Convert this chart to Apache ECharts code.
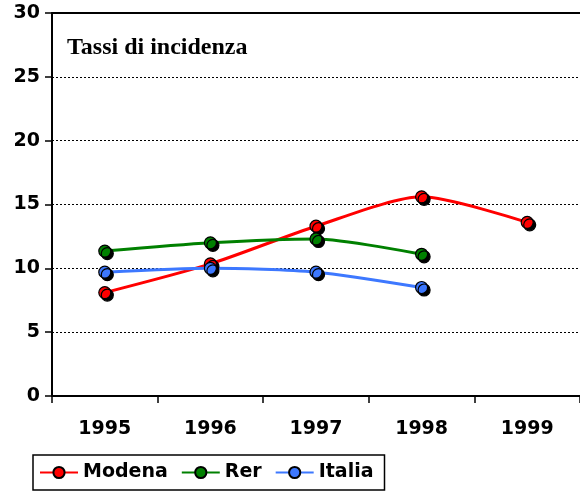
<!DOCTYPE html>
<html>
<head>
    <meta charset="UTF-8"/>
    <title>Tassi di incidenza</title>
    <script src="https://cdn.jsdelivr.net/npm/echarts@6/dist/echarts.min.js"></script>
    <style>
        html, body { margin: 0; padding: 0; background: #fff; }
        #chart { width: 580px; height: 491px; }
    </style>
</head>
<body>
<div id="chart"></div>
<script type="text/javascript">
    // dati
    const anni = ["1995", "1996", "1997", "1998", "1999"];
    const modena = [8.1, 10.35, 13.3, 15.6, 13.6];
    const rer = [11.35, 12.0, 12.3, 11.1, null];
    const italia = [9.7, 10.0, 9.7, 8.5, null];
    const yTicks = [0, 5, 10, 15, 20, 25, 30];

    const font = "'DejaVu Sans', Verdana, sans-serif";
    const chart = echarts.init(document.getElementById("chart"), null, {renderer: "canvas"});

    function serie(nome, dati, colore) {
        return {
            name: nome,
            type: "line",
            data: dati,
            smooth: 0.25,
            symbol: "circle",
            symbolSize: 12,
            lineStyle: {color: colore, width: 3},
            itemStyle: {
                color: colore,
                borderColor: "#000",
                borderWidth: 1.2,
                shadowColor: "#000",
                shadowBlur: 0,
                shadowOffsetX: 2.5,
                shadowOffsetY: 2.5
            },
            emphasis: {disabled: true}
        };
    }

    chart.setOption({
        animation: false,
        title: {
            text: "Tassi di incidenza",
            left: 62,
            top: 31,
            textStyle: {fontFamily: "'Liberation Serif', 'Times New Roman', serif", fontWeight: "bold", fontSize: 24, color: "#000"}
        },
        legend: {
            left: 33,
            top: 455,
            padding: [8, 11, 8, 6],
            itemGap: 13,
            itemWidth: 38,
            itemHeight: 14,
            borderColor: "#000",
            borderWidth: 1.5,
            textStyle: {fontFamily: font, fontWeight: "bold", fontSize: 19, color: "#000"},
            data: ["Modena", "Rer", "Italia"]
        },
        grid: {left: 52, right: -4, top: 13, bottom: 95, containLabel: false},
        xAxis: [{
            type: "category",
            data: anni,
            boundaryGap: true,
            axisLine: {lineStyle: {color: "#000", width: 2}},
            axisTick: {show: true, length: 7, lineStyle: {color: "#000", width: 1.5}},
            axisLabel: {margin: 24, fontFamily: font, fontWeight: "bold", fontSize: 19, color: "#000"},
            splitLine: {show: false}
        }, {
            type: "category",
            data: anni,
            position: "top",
            axisLine: {show: true, lineStyle: {color: "#000", width: 2}},
            axisTick: {show: false},
            axisLabel: {show: false}
        }],
        yAxis: {
            type: "value",
            min: yTicks[0],
            max: yTicks[yTicks.length - 1],
            interval: 5,
            axisLine: {show: true, lineStyle: {color: "#000", width: 2}},
            axisTick: {show: true, length: 7, lineStyle: {color: "#000", width: 1.5}},
            axisLabel: {margin: 12, fontFamily: font, fontWeight: "bold", fontSize: 19, color: "#000"},
            splitLine: {show: true, lineStyle: {color: "#000", type: [2, 2], width: 1}}
        },
        series: [
            serie("Modena", modena, "#ff0000"),
            serie("Rer", rer, "#008000"),
            serie("Italia", italia, "#3d78ff")
        ]
    });
</script>
</body>
</html>
